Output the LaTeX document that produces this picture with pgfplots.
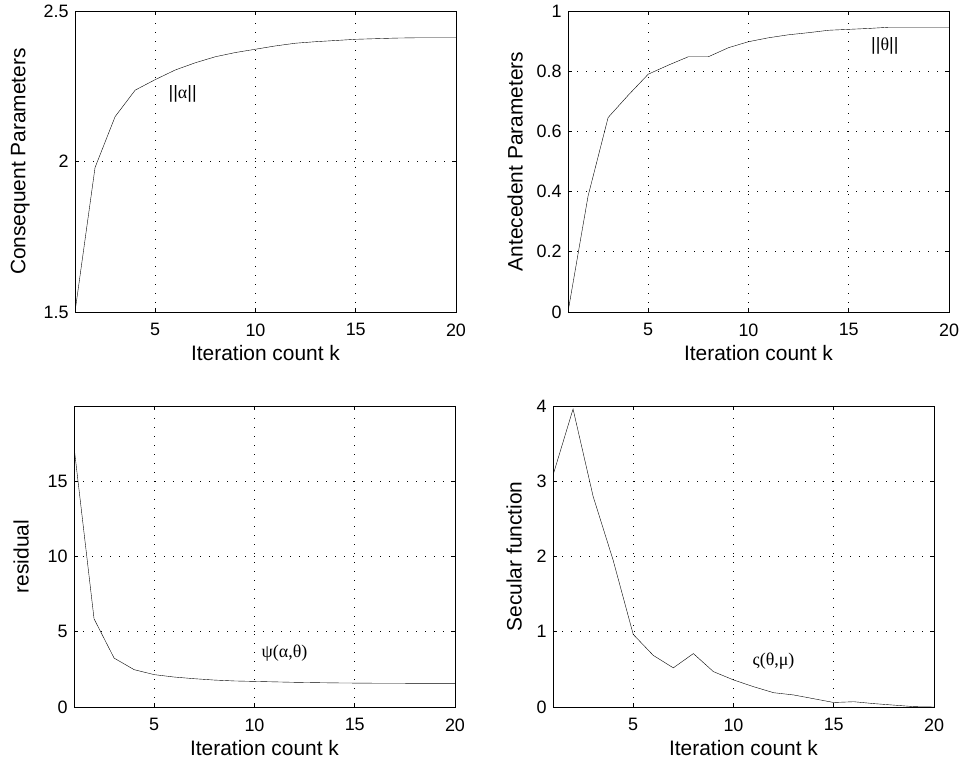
\documentclass[border=0pt]{standalone}
\usepackage{fontspec}
\setmainfont{Liberation Sans}
\newfontfamily\grk{Liberation Serif}
\usepackage{pgfplots}
\pgfplotsset{compat=1.18}

\tikzset{note/.style={font=\fontsize{18}{21}\selectfont, anchor=center}}
\pgfplotsset{
  mat/.style={
    scale only axis, width=381bp, height=301bp,
    anchor=south west,
    xmin=1, xmax=20, xtick={5,10,15,20},
    grid=major,
    major grid style={black, line width=0.6bp, dash pattern=on 0.9bp off 8.1bp},
    tick align=inside,
    major tick length=4bp,
    tick style={black, line width=0.7bp},
    axis line style={line width=0.9bp},
    ticklabel style={font=\fontsize{18}{21}\selectfont},
    label style={font=\fontsize{21}{25}\selectfont},
    /pgf/number format/assume math mode=true,
    xticklabel style={yshift=-8bp},
    yticklabel style={xshift=-3bp},
    xlabel={Iteration count k},
    xlabel style={at={(axis description cs:0.5,-0.136)}, anchor=center},
    cycle list={{black, line width=0.8bp, mark=none}},
  },
}

\begin{document}
\begin{tikzpicture}
\useasboundingbox (0,0) rectangle (961bp,763bp);

% top left
\begin{axis}[mat, at={(75bp,451bp)},
    ymin=1.5, ymax=2.5, ytick={1.5,2,2.5},
    ylabel={Consequent Parameters},
    ylabel style={at={(axis description cs:-0.144,0.5)}, anchor=center}]
\addplot coordinates {
 (1,1.5) (2,1.98) (3,2.149) (4,2.237) (5,2.272) (6,2.304) (7,2.328)
 (8,2.348) (9,2.362) (10,2.373) (11,2.384) (12,2.393) (13,2.398)
 (14,2.402) (15,2.406) (16,2.408) (17,2.41) (18,2.411) (19,2.411) (20,2.411)
};
\node[note] at (axis cs:6.37,2.223) {||{\grk α}||};
\end{axis}

% top right
\begin{axis}[mat, at={(568bp,451bp)},
    ymin=0, ymax=1, ytick={0,0.2,0.4,0.6,0.8,1},
    ylabel={Antecedent Parameters},
    ylabel style={at={(axis description cs:-0.139,0.5)}, anchor=center}]
\addplot coordinates {
 (1,0) (2,0.385) (3,0.646) (4,0.72) (5,0.79) (6,0.82) (7,0.848)
 (8,0.848) (9,0.878) (10,0.898) (11,0.911) (12,0.921) (13,0.928)
 (14,0.936) (15,0.939) (16,0.942) (17,0.946) (18,0.946) (19,0.946) (20,0.946)
};
\node[note] at (axis cs:16.8,0.884) {||{\grk θ}||};
\end{axis}

% bottom left
\begin{axis}[mat, at={(74bp,56bp)},
    ymin=0, ymax=20, ytick={0,5,10,15},
    ylabel={residual},
    ylabel style={at={(axis description cs:-0.139,0.5)}, anchor=center}]
\addplot coordinates {
 (1,17.3) (2,5.86) (3,3.25) (4,2.48) (5,2.15) (6,1.99) (7,1.88)
 (8,1.79) (9,1.73) (10,1.70) (11,1.67) (12,1.64) (13,1.62)
 (14,1.60) (15,1.59) (16,1.58) (17,1.58) (18,1.57) (19,1.57) (20,1.57)
};
\node[note] at (axis cs:11.5,3.6) {\grk ψ(α,θ)};
\end{axis}

% bottom right
\begin{axis}[mat, at={(553bp,56bp)},
    ymin=0, ymax=4, ytick={0,1,2,3,4},
    ylabel={Secular function},
    ylabel style={at={(axis description cs:-0.102,0.5)}, anchor=center}]
\addplot coordinates {
 (1,3.08) (2,3.96) (3,2.80) (4,1.95) (5,0.965) (6,0.686) (7,0.52)
 (8,0.71) (9,0.47) (10,0.36) (11,0.27) (12,0.19) (13,0.16)
 (14,0.11) (15,0.06) (16,0.07) (17,0.045) (18,0.025) (19,0.005) (20,0)
};
\node[note] at (axis cs:12.0,0.61) {\grk ς(θ,μ)};
\end{axis}
\end{tikzpicture}
\end{document}
